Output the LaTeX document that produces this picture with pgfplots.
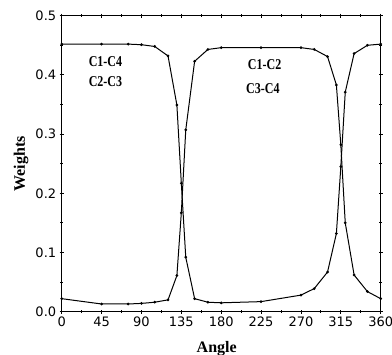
\documentclass[border=0pt]{standalone}
\usepackage{graphicx}
\usepackage{pgfplots}
\pgfplotsset{compat=1.18}
\usepackage{fontspec}
\setmainfont{Liberation Serif}
\newfontfamily\tickfont{DejaVu Sans}
\newcommand\ann[1]{\scalebox{0.8}[1]{\bfseries\fontsize{15}{17}\selectfont #1}}
\begin{document}
\begin{tikzpicture}[x=1pt,y=1pt]
\path[use as bounding box] (-61.7,-43.3) rectangle (330.3,311.7);
\begin{axis}[
  at={(0,0)}, anchor=south west,
  scale only axis, width=319pt, height=296pt,
  xmin=0, xmax=360, ymin=0, ymax=0.5,
  xtick={0,45,...,360}, minor x tick num=1,
  ytick={0,0.1,...,0.5}, minor y tick num=1,
  yticklabel style={/pgf/number format/.cd, fixed, fixed zerofill, precision=1},
  tick label style={font=\tickfont\fontsize{13}{15}\selectfont},
  /pgf/number format/assume math mode=true,
  tick align=center,
  major tick length=4pt, minor tick length=3pt,
  tick style={black, line width=0.8pt},
  axis line style={line width=0.9pt},
  xlabel={\textbf{Angle}}, ylabel={\textbf{Weights}},
  label style={font=\fontsize{16}{18}\selectfont},
  xlabel style={at={(axis description cs:0.486,-0.125)}, anchor=center},
  ylabel style={at={(axis description cs:-0.1276,0.5)}, anchor=center},
  clip=false,
]
\addplot[black, line width=1pt, mark=*, mark size=0.8pt] coordinates {
(0,0.452) (45,0.452) (75,0.452) (90,0.451) (105,0.448) (120,0.432)
(130,0.349) (135,0.217) (140,0.092) (150,0.022) (165,0.016) (180,0.015)
(225,0.017) (270,0.028) (285,0.039) (300,0.067) (310,0.132) (315,0.245)
(320,0.371) (330,0.436) (345,0.450) (360,0.452)
};
\addplot[black, line width=1pt, mark=*, mark size=0.8pt] coordinates {
(0,0.022) (45,0.013) (75,0.013) (90,0.014) (105,0.016) (120,0.020)
(130,0.061) (135,0.167) (140,0.307) (150,0.423) (165,0.443) (180,0.446)
(225,0.446) (270,0.446) (285,0.443) (300,0.431) (310,0.383) (315,0.282)
(320,0.150) (330,0.062) (345,0.034) (360,0.022)
};
\node at (axis cs:49.4,0.422) {\ann{C1-C4}};
\node at (axis cs:49.4,0.388) {\ann{C2-C3}};
\node at (axis cs:229,0.417) {\ann{C1-C2}};
\node at (axis cs:227,0.376) {\ann{C3-C4}};
\end{axis}
\end{tikzpicture}
\end{document}
